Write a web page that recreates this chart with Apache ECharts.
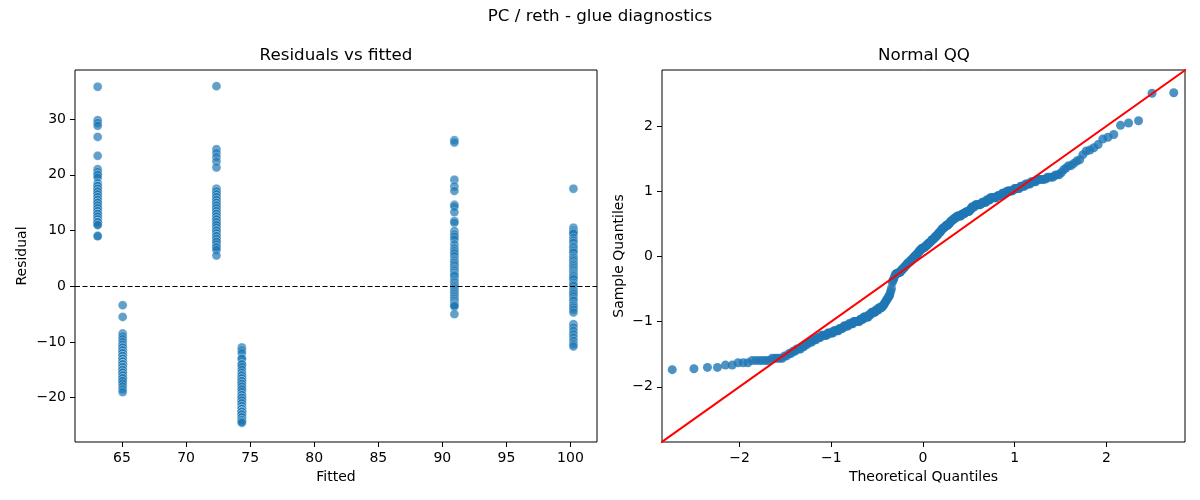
<!DOCTYPE html>
<html>
<head>
<meta charset="utf-8">
<script src="https://cdn.jsdelivr.net/npm/echarts@6/dist/echarts.min.js"></script>
<style>
    html, body { margin: 0; background: #fff; }
    #chart { width: 1200px; height: 500px; }
</style>
</head>
<body>
<div id="chart"></div>
<script>
/*data*/
const fittedLevels = [63.1, 65.05, 72.37, 74.35, 90.94, 100.23];

const residAt63 = [35.8, 29.8, 29.3, 28.8, 26.8, 23.4, 21.0, 20.5, 20.0, 20.0, 19.5, 18.5, 18.0, 18.0, 17.5,
    17.5, 17.0, 17.0, 17.0, 16.5, 16.5, 16.0, 16.0, 15.5, 15.5, 15.0, 15.0, 15.0, 14.5, 14.5, 14.0, 14.0,
    13.5, 13.5, 13.0, 13.0, 13.0, 13.0, 12.5, 12.5, 12.0, 12.0, 11.5, 11.5, 11.5, 11.5, 11.0, 11.0,
    9.0, 9.0];
const residAt65 = [-3.4, -5.5, -8.5, -9.0, -9.5, -10.0, -10.5, -11.0, -11.0, -11.0, -11.5, -11.5, -11.5,
    -12.0, -12.0, -12.0, -12.0, -12.5, -12.5, -12.5, -13.0, -13.0, -13.0, -13.0, -13.5, -13.5, -13.5, -13.5,
    -14.0, -14.0, -14.0, -14.0, -14.0, -14.5, -14.5, -14.5, -14.5, -15.0, -15.0, -15.0, -15.0, -15.5, -15.5,
    -15.5, -16.0, -16.0, -16.0, -16.5, -16.5, -16.5, -17.0, -17.0, -17.5, -18.0, -18.5, -19.0];
const residAt72 = [35.9, 24.6, 23.9, 23.2, 22.4, 21.3, 17.5, 17.0, 17.0, 16.5, 16.5, 16.0, 16.0, 15.5, 15.5,
    15.0, 15.0, 14.5, 14.5, 14.5, 14.0, 14.0, 13.5, 13.5, 13.0, 13.0, 13.0, 12.5, 12.5, 12.0, 12.0, 12.0,
    11.5, 11.5, 11.0, 11.0, 10.5, 10.0, 10.0, 10.0, 9.5, 9.5, 9.0, 9.0, 9.0, 8.5, 8.5, 8.0, 8.0, 7.5, 7.0,
    7.0, 6.5, 5.5];
const residAt74 = [-11.0, -11.5, -12.0, -13.0, -13.0, -14.0, -14.0, -14.5, -15.0, -15.5, -16.0, -16.0, -16.5,
    -16.5, -17.0, -17.0, -17.0, -17.5, -17.5, -18.0, -18.0, -18.5, -18.5, -19.0, -19.5, -19.5, -20.0, -20.0,
    -20.0, -20.5, -20.5, -21.0, -21.0, -21.5, -21.5, -22.0, -22.0, -22.0, -22.0, -22.0, -22.5, -22.5, -22.5,
    -22.5, -22.5, -22.5, -23.0, -23.0, -23.0, -23.5, -23.5, -24.0, -24.0, -24.3, -24.5];
const residAt91 = [26.2, 25.8, 19.1, 17.9, 17.1, 14.6, 14.3, 13.3, 11.7, 11.4, 9.9, 9.3, 8.9, 8.4, 7.5, 6.8,
    6.3, 5.9, 5.4, 4.8, 4.5, 4.2, 3.9, 3.6, 3.2, 3.0, 2.7, 2.4, 2.1, 2.0, 1.8, 1.25, 0.9, 0.65, 0.3, 0.06,
    -0.2, -0.5, -0.8, -1.1, -1.4, -1.7, -2.0, -2.3, -2.6, -2.9, -3.2, -3.3, -3.5, -3.6, -5.0];
const residAt100 = [17.5, 10.5, 10.1, 9.8, 9.6, 9.4, 8.7, 8.2, 7.8, 7.2, 7.0, 6.6, 6.3, 6.0, 5.4, 5.1, 4.8,
    4.5, 4.1, 3.9, 3.6, 3.3, 3.0, 2.7, 2.4, 2.2, 2.0, 1.8, 1.5, 1.25, 0.65, 0.3, 0.06, -0.5, -0.8, -1.1,
    -1.4, -1.8, -2.3, -2.6, -3.2, -3.5, -3.8, -4.2, -4.7, -6.8, -7.4, -8.0, -8.6, -9.2, -9.8, -10.4, -10.8];

const residGroups = [residAt63, residAt65, residAt72, residAt74, residAt91, residAt100];

const fittedTicks = [65, 70, 75, 80, 85, 90, 95, 100];
const residTicks = [-20, -10, 0, 10, 20, 30];
const qqTicks = [-2, -1, 0, 1, 2];

/*helpers*/
function normInv(p) {
    const a = [-3.969683028665376e+01, 2.209460984245205e+02, -2.759285104469687e+02,
        1.383577518672690e+02, -3.066479806614716e+01, 2.506628277459239e+00];
    const b = [-5.447609879822406e+01, 1.615858368580409e+02, -1.556989798598866e+02,
        6.680131188771972e+01, -1.328068155288572e+01];
    const c = [-7.784894002430293e-03, -3.223964580411365e-01, -2.400758277161838e+00,
        -2.549732539343734e+00, 4.374664141464968e+00, 2.938163982698783e+00];
    const d = [7.784695709041462e-03, 3.224671290700398e-01, 2.445134137142996e+00,
        3.754408661907416e+00];
    const pLow = 0.02425;
    let q, r;

    if (p < pLow || p > 1 - pLow) {
        q = Math.sqrt(-2 * Math.log(p < pLow ? p : 1 - p));
        const v = (((((c[0] * q + c[1]) * q + c[2]) * q + c[3]) * q + c[4]) * q + c[5]) /
            ((((d[0] * q + d[1]) * q + d[2]) * q + d[3]) * q + 1);
        return p < pLow ? v : -v;
    }
    q = p - 0.5;
    r = q * q;
    return (((((a[0] * r + a[1]) * r + a[2]) * r + a[3]) * r + a[4]) * r + a[5]) * q /
        (((((b[0] * r + b[1]) * r + b[2]) * r + b[3]) * r + b[4]) * r + 1);
}

const minus = function (v) {
    return String(v).replace('-', '\u2212');
};

/*series data*/
const scatterData = [];
residGroups.forEach(function (group, i) {
    group.forEach(function (r) {
        scatterData.push([fittedLevels[i], r]);
    });
});

// normal qq of the standardised residuals
const allResid = residGroups.flat().sort(function (a, b) { return a - b; });
const n = allResid.length;
const mean = allResid.reduce(function (s, v) { return s + v; }, 0) / n;
const sd = Math.sqrt(allResid.reduce(function (s, v) { return s + (v - mean) * (v - mean); }, 0) / n);
const qqData = allResid.map(function (v, i) {
    return [normInv((i + 1) / (n + 1)), (v - mean) / sd];
});

/*chart*/
const font = 'DejaVu Sans';
const chart = echarts.init(document.getElementById('chart'), null, {renderer: 'canvas'});

function valueAxis(gridIndex, min, max, ticks, name, nameGap) {
    return {
        type: 'value',
        gridIndex: gridIndex,
        min: min,
        max: max,
        name: name,
        nameLocation: 'middle',
        nameGap: nameGap,
        nameTextStyle: {fontFamily: font, fontSize: 14, color: '#000'},
        axisLine: {show: false, onZero: false},
        axisTick: {show: true, length: 5, customValues: ticks, lineStyle: {color: '#000', width: 1}},
        axisLabel: {
            customValues: ticks, margin: 9, fontFamily: font, fontSize: 14, color: '#000',
            formatter: minus
        },
        splitLine: {show: false}
    };
}

const option = {
    animation: false,
    backgroundColor: '#fff',
    grid: [
        {left: 75, top: 70, width: 522, height: 372, show: true, borderColor: '#000', borderWidth: 1},
        {left: 662, top: 70, width: 523, height: 372, show: true, borderColor: '#000', borderWidth: 1}
    ],
    xAxis: [
        valueAxis(0, 61.33, 102.07, fittedTicks, 'Fitted', 27),
        valueAxis(1, -2.846, 2.857, qqTicks, 'Theoretical Quantiles', 27)
    ],
    yAxis: [
        valueAxis(0, -27.95, 38.8, residTicks, 'Residual', 46),
        valueAxis(1, -2.848, 2.862, qqTicks, 'Sample Quantiles', 36)
    ],
    graphic: [
        {type: 'text', left: 'center', top: 8, style: {text: 'PC / reth - glue diagnostics', fontFamily: font, fontSize: 16.7, fill: '#000'}},
        {type: 'text', x: 336, y: 56, style: {text: 'Residuals vs fitted', fontFamily: font, fontSize: 16.7, fill: '#000', align: 'center', verticalAlign: 'middle'}},
        {type: 'text', x: 924, y: 56, style: {text: 'Normal QQ', fontFamily: font, fontSize: 16.7, fill: '#000', align: 'center', verticalAlign: 'middle'}}
    ],
    series: [
        {
            type: 'scatter',
            xAxisIndex: 0,
            yAxisIndex: 0,
            data: scatterData,
            symbolSize: 9,
            itemStyle: {color: '#1f77b4', borderColor: '#fff', borderWidth: 0.4, opacity: 0.7},
            markLine: {
                silent: true,
                symbol: 'none',
                label: {show: false},
                lineStyle: {color: '#000', width: 1.2, type: [5, 2.5]},
                data: [{yAxis: 0}]
            }
        },
        {
            type: 'scatter',
            xAxisIndex: 1,
            yAxisIndex: 1,
            data: qqData,
            symbolSize: 9,
            itemStyle: {color: '#1f77b4'}
        },
        {
            type: 'line',
            xAxisIndex: 1,
            yAxisIndex: 1,
            data: [[-3, -3], [3, 3]],
            symbol: 'none',
            clip: true,
            z: 5,
            lineStyle: {color: '#ff0000', width: 2}
        }
    ]
};

chart.setOption(option);
</script>
</body>
</html>
